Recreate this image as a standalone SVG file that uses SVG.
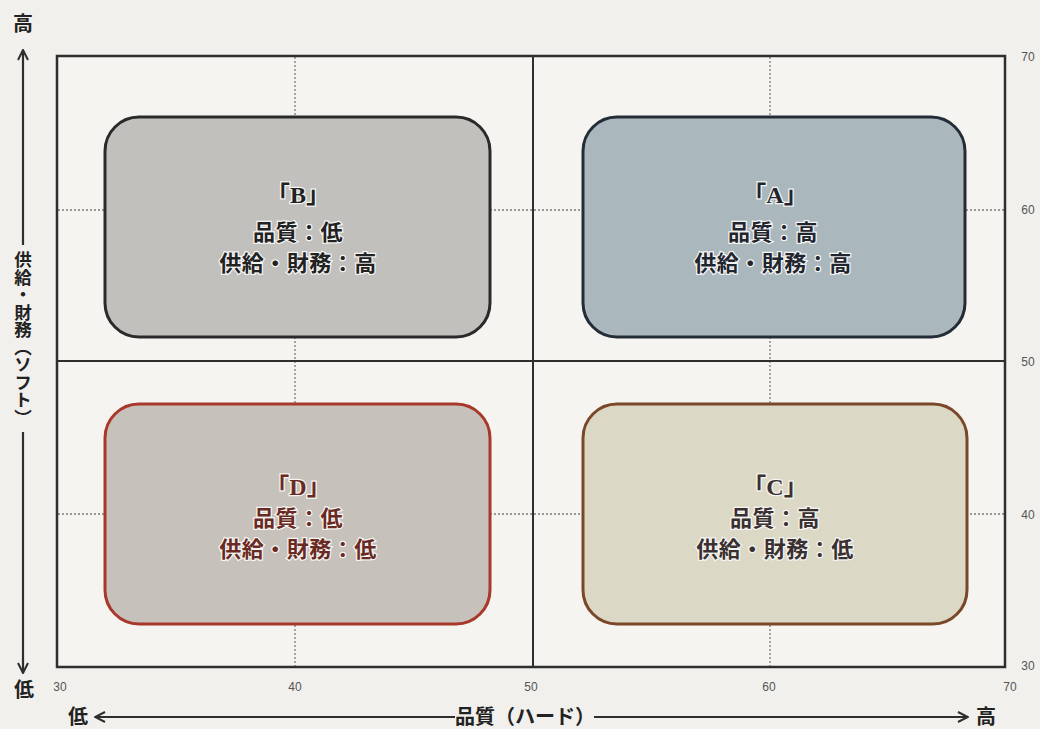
<svg xmlns="http://www.w3.org/2000/svg" width="1040" height="729" viewBox="0 0 1040 729">
<defs>
<style>
.bg{fill:#f1f0ec}
.frame{fill:none;stroke:#2e2e2e;stroke-width:2.5}
.axis{stroke:#2e2e2e;stroke-width:2}
.grid{stroke:#7a7a7a;stroke-width:1.3;stroke-dasharray:2 2}
.tick{font-family:"Liberation Sans","Noto Sans CJK JP",sans-serif;font-size:12px;fill:#555;text-anchor:middle}
.ax{font-family:"Noto Sans CJK JP",sans-serif;font-weight:bold;font-size:20px;fill:#222;text-anchor:middle}
.lbl{font-family:"Liberation Serif","Noto Sans CJK JP",serif;font-weight:bold;font-size:24px;text-anchor:middle;paint-order:stroke;stroke:#f4f4f2;stroke-width:2.5}
.txt{font-family:"Noto Sans CJK JP",sans-serif;font-weight:bold;font-size:22px;letter-spacing:0.5px;text-anchor:middle;paint-order:stroke;stroke:#f4f4f2;stroke-width:2.5}
.arrow{fill:none;stroke:#2e2e2e;stroke-width:2.2}
</style>
<marker id="ah" viewBox="0 0 12 12" refX="11" refY="6" markerWidth="12" markerHeight="12" markerUnits="userSpaceOnUse" orient="auto">
<path d="M1,1 L11,6 L1,11" fill="none" stroke="#2e2e2e" stroke-width="2"/>
</marker>
</defs>
<rect class="bg" x="0" y="0" width="1040" height="729"/>

<g id="plot">
<rect x="57" y="56" width="948" height="611" fill="#f5f4f1"/>
<line class="grid" x1="295" y1="57" x2="295" y2="666"/>
<line class="grid" x1="770" y1="57" x2="770" y2="666"/>
<line class="grid" x1="58" y1="210" x2="1004" y2="210"/>
<line class="grid" x1="58" y1="514" x2="1004" y2="514"/>
<line class="axis" x1="533" y1="57" x2="533" y2="666"/>
<line class="axis" x1="58" y1="361" x2="1004" y2="361"/>
<rect class="frame" x="57" y="56" width="948" height="611"/>
</g>

<g id="ticks">
<text class="tick" x="60" y="691">30</text>
<text class="tick" x="295" y="691">40</text>
<text class="tick" x="531" y="691">50</text>
<text class="tick" x="769" y="691">60</text>
<text class="tick" x="1010" y="691">70</text>
<text class="tick" x="1028" y="61">70</text>
<text class="tick" x="1028" y="214">60</text>
<text class="tick" x="1028" y="366">50</text>
<text class="tick" x="1028" y="519">40</text>
<text class="tick" x="1028" y="670">30</text>
</g>

<g id="node-B">
<rect x="105" y="117" width="385" height="220" rx="34" fill="#c1c0bd" stroke="#2a2a2a" stroke-width="3"/>
<text class="lbl" x="298" y="203" fill="#222">「B」</text>
<text class="txt" x="298" y="240" fill="#222">品質：低</text>
<text class="txt" x="298" y="271" fill="#222">供給・財務：高</text>
</g>

<g id="node-A">
<rect x="583" y="117" width="382" height="220" rx="34" fill="#aab8be" stroke="#242c38" stroke-width="3"/>
<text class="lbl" x="775" y="203" fill="#1f2630">「A」</text>
<text class="txt" x="773" y="240" fill="#1f2630">品質：高</text>
<text class="txt" x="773" y="271" fill="#1f2630">供給・財務：高</text>
</g>

<g id="node-D">
<rect x="105" y="404" width="385" height="220" rx="34" fill="#c7c1bb" stroke="#a8382a" stroke-width="3"/>
<text class="lbl" x="298" y="495" fill="#6a2a22">「D」</text>
<text class="txt" x="298" y="526" fill="#6a2a22">品質：低</text>
<text class="txt" x="298" y="557" fill="#6a2a22">供給・財務：低</text>
</g>

<g id="node-C">
<rect x="583" y="404" width="384" height="220" rx="34" fill="#dcd8c6" stroke="#7a4828" stroke-width="3"/>
<text class="lbl" x="775" y="495" fill="#3a3030">「C」</text>
<text class="txt" x="775" y="526" fill="#3a3030">品質：高</text>
<text class="txt" x="775" y="557" fill="#3a3030">供給・財務：低</text>
</g>

<g id="connectors">
<line class="arrow" x1="23" y1="245" x2="23" y2="50" marker-end="url(#ah)"/>
<line class="arrow" x1="23" y1="432" x2="23" y2="673" marker-end="url(#ah)"/>
<line class="arrow" x1="455" y1="717" x2="95" y2="717" marker-end="url(#ah)"/>
<line class="arrow" x1="594" y1="717" x2="968" y2="717" marker-end="url(#ah)"/>
</g>

<g id="axis-labels">
<text class="ax" x="23" y="31">高</text>
<text class="ax" x="24" y="697">低</text>
<text class="ax" x="23" y="251" style="writing-mode:vertical-rl;text-anchor:start;font-size:17.5px">供給・財務（ソフト）</text>
<text class="ax" x="78" y="724">低</text>
<text class="ax" x="986" y="724">高</text>
<text class="ax" x="525" y="724">品質（ハード）</text>
</g>
</svg>
